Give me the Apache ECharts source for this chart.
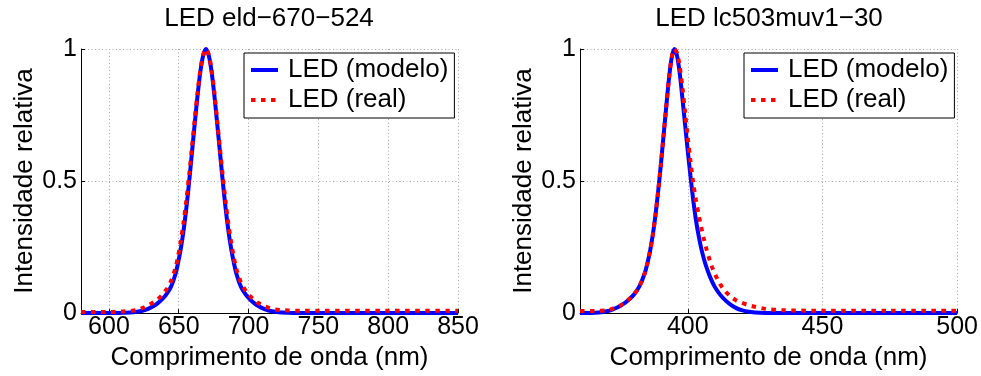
<!DOCTYPE html>
<html>
<head>
<meta charset="utf-8">
<script src="https://cdn.jsdelivr.net/npm/echarts@6.0.0/dist/echarts.min.js"></script>
<style>
  html, body { margin: 0; padding: 0; background: #fff; }
  #chart { width: 981px; height: 376px; }
</style>
</head>
<body>
<div id="chart"></div>
<script>
// Spectra of two LEDs: parametric model vs. measured spectrum (relative intensity)
const FONT = '"Liberation Sans", Arial, Helvetica, sans-serif';

const seriesNames = ['LED (modelo)', 'LED (real)'];
const panelTitles = ['LED eld\u2212670\u2212524', 'LED lc503muv1\u221230'];
const xAxisName = 'Comprimento de onda (nm)';
const yAxisName = 'Intensidade relativa';

// LED eld-670-524 (wavelength in nm)
const eldWavelength = [580, 600, 605, 610, 615, 620, 624, 628, 632, 635, 638, 641, 644.5, 647.5, 649.5,
  651.5, 653.5, 655.5, 657.5, 659.5, 661.5, 663.5, 665.5, 667.5, 669.5, 671.5, 673.5, 675.5, 677.5,
  679.5, 681.5, 683.5, 685.5, 687.5, 689.5, 691.5, 694.5, 698, 701, 704, 707, 711, 715, 719, 724,
  729, 734, 739, 750, 800, 850];
const eldModel = [0, 0, 0.0003, 0.001, 0.002, 0.005, 0.009, 0.016, 0.027, 0.038, 0.052, 0.07, 0.1, 0.145, 0.19,
  0.245, 0.315, 0.40, 0.50, 0.61, 0.72, 0.825, 0.915, 0.975, 1.0, 0.975, 0.915, 0.825, 0.72,
  0.61, 0.50, 0.40, 0.315, 0.245, 0.19, 0.145, 0.1, 0.07, 0.052, 0.038, 0.027, 0.016, 0.009, 0.005, 0.002,
  0.001, 0.0003, 0, 0, 0, 0];
const eldReal = [0.004, 0.004, 0.005, 0.006, 0.008, 0.012, 0.019, 0.029, 0.041, 0.053, 0.068, 0.088, 0.122, 0.168, 0.215,
  0.275, 0.345, 0.43, 0.525, 0.63, 0.735, 0.835, 0.92, 0.978, 1.0, 0.978, 0.92, 0.835, 0.73,
  0.625, 0.52, 0.425, 0.34, 0.27, 0.21, 0.163, 0.117, 0.084, 0.065, 0.05, 0.038, 0.027, 0.019, 0.014, 0.011,
  0.01, 0.009, 0.009, 0.009, 0.009, 0.009];

// LED lc503muv1-30 (wavelength in nm)
const lcWavelength = [360, 364, 367, 370, 372, 374, 376, 378, 380, 382, 384, 385, 386, 387, 388, 389, 390, 391,
  392, 393, 394, 395, 396, 397, 398, 399, 400, 401, 402, 403, 404, 405, 406, 407, 408, 409, 410,
  412, 414, 416, 418, 420, 422, 425, 429, 435, 450, 475, 500];
const lcModel = [0, 0.0005, 0.0025, 0.007, 0.013, 0.022, 0.034, 0.05, 0.07, 0.1, 0.15, 0.188, 0.235, 0.295, 0.37, 0.46, 0.56, 0.67,
  0.78, 0.885, 0.965, 1.0, 0.975, 0.91, 0.815, 0.715, 0.615, 0.52, 0.43, 0.355, 0.295, 0.245, 0.205, 0.172, 0.144, 0.12, 0.1,
  0.07, 0.048, 0.031, 0.019, 0.011, 0.006, 0.0025, 0.0007, 0, 0, 0, 0];
const lcReal = [0.008, 0.008, 0.009, 0.011, 0.016, 0.024, 0.035, 0.051, 0.071, 0.1, 0.15, 0.188, 0.235, 0.295, 0.37, 0.46, 0.56, 0.67,
  0.78, 0.885, 0.965, 1.0, 0.985, 0.935, 0.855, 0.76, 0.665, 0.575, 0.495, 0.43, 0.375, 0.325, 0.28, 0.24, 0.205, 0.175, 0.15,
  0.11, 0.082, 0.062, 0.048, 0.039, 0.032, 0.024, 0.016, 0.011, 0.009, 0.009, 0.009];

const yTicks = [0, 0.5, 1];

function pairs(xs, ys) { return xs.map((x, i) => [x, ys[i]]); }

const gridStyle = { color: '#a6a6a6', width: 1, type: [1, 2.5] };

function xAxis(idx, min, max) {
  return {
    type: 'value', gridIndex: idx, min: min, max: max, minInterval: 50, maxInterval: 50,
    axisLine: { show: true, onZero: false, lineStyle: { color: '#000', width: 1 } },
    axisTick: { show: true, inside: true, length: 4, lineStyle: { color: '#000' } },
    axisLabel: { showMinLabel: false, fontSize: 25, color: '#000', fontFamily: FONT, margin: 2 },
    splitLine: { show: true, lineStyle: gridStyle },
    name: xAxisName, nameLocation: 'middle', nameGap: 29,
    nameTextStyle: { fontSize: 26, color: '#000', fontFamily: FONT }
  };
}

function yAxis(idx) {
  return {
    type: 'value', gridIndex: idx, min: yTicks[0], max: yTicks[yTicks.length - 1], interval: yTicks[1] - yTicks[0],
    axisLine: { show: true, onZero: false, lineStyle: { color: '#000', width: 1 } },
    axisTick: { show: true, inside: true, length: 4, lineStyle: { color: '#000' } },
    axisLabel: { fontSize: 25, color: '#000', fontFamily: FONT, margin: 4 },
    splitLine: { show: true, lineStyle: gridStyle },
    name: yAxisName, nameLocation: 'middle', nameGap: 43,
    nameTextStyle: { fontSize: 26, color: '#000', fontFamily: FONT }
  };
}

function line(name, idx, data, color, dashed) {
  return {
    type: 'line', name: name, xAxisIndex: idx, yAxisIndex: idx, data: data,
    symbol: 'none', showSymbol: false, smooth: 0.3,
    lineStyle: dashed ? { color: color, width: 4, type: [4.5, 5.5], cap: 'butt' } : { color: color, width: 4 },
    itemStyle: { color: color },
    z: dashed ? 3 : 2
  };
}

function legend(left) {
  return {
    left: left, top: 53, orient: 'vertical', data: seriesNames, selectedMode: false,
    borderColor: '#000', borderWidth: 1, backgroundColor: '#fff',
    padding: [3, 6, 4, 5], itemWidth: 27, itemHeight: 14, itemGap: 2,
    // line sample only, no marker symbol
    itemStyle: { opacity: 0, color: 'rgba(0,0,0,0)', borderWidth: 0 },
    lineStyle: { width: 4 },
    textStyle: { fontSize: 26, lineHeight: 28, color: '#000', fontFamily: FONT, padding: [0, 0, 0, 5] }
  };
}

const chart = echarts.init(document.getElementById('chart'), null, { renderer: 'canvas' });
chart.setOption({
  animation: false,
  backgroundColor: '#fff',
  title: [
    { text: panelTitles[0], left: 269, top: 6, textAlign: 'center', padding: 0,
      textStyle: { fontSize: 26, fontWeight: 'normal', color: '#000', fontFamily: FONT } },
    { text: panelTitles[1], left: 769, top: 6, textAlign: 'center', padding: 0,
      textStyle: { fontSize: 26, fontWeight: 'normal', color: '#000', fontFamily: FONT } }
  ],
  legend: [legend(244), legend(744)],
  grid: [
    { left: 81, top: 49, width: 377, height: 265 },
    { left: 580, top: 49, width: 378, height: 265 }
  ],
  xAxis: [xAxis(0, 580, 850), xAxis(1, 360, 500)],
  yAxis: [yAxis(0), yAxis(1)],
  series: [
    line(seriesNames[0], 0, pairs(eldWavelength, eldModel), '#0000ff', false),
    line(seriesNames[1], 0, pairs(eldWavelength, eldReal), '#ff0000', true),
    line(seriesNames[0], 1, pairs(lcWavelength, lcModel), '#0000ff', false),
    line(seriesNames[1], 1, pairs(lcWavelength, lcReal), '#ff0000', true)
  ]
});
</script>
</body>
</html>
